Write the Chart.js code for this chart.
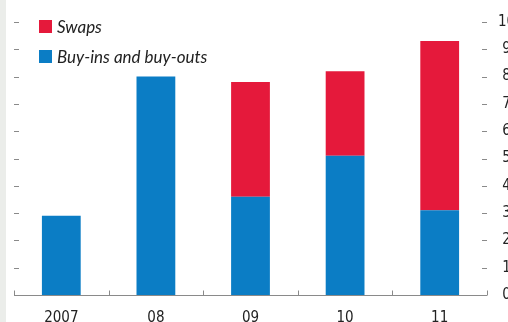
<!DOCTYPE html>
<html>
<head>
<meta charset="utf-8">
<script src="https://cdn.jsdelivr.net/npm/chart.js@4"></script>
<style>
  html, body { margin: 0; padding: 0; background: #fff; overflow: hidden; width: 508px; height: 322px; }
  #wrap { position: relative; width: 520px; height: 322px; }
  #strip { position: absolute; left: 0; top: 0; width: 6px; height: 322px; background: #ebedea; }
  canvas { position: absolute; left: 0; top: 0; }
  .key { position: absolute; left: 39px; font: italic 17px Lato, 'Liberation Sans', sans-serif; color: #222; line-height: 13px; white-space: nowrap; }
  .key span { display: inline-block; width: 13px; height: 13px; vertical-align: top; margin-right: 5px; }
</style>
</head>
<body>
<div id="wrap">
  <div id="strip"></div>
  <canvas id="chart" width="520" height="322"></canvas>
  <div class="key" style="top:20px"><span style="background:#e5193b"></span>Swaps</div>
  <div class="key" style="top:50px"><span style="background:#0b7dc5"></span>Buy-ins and buy-outs</div>
</div>
<script>
  // chart values
  const years = ['2007', '08', '09', '10', '11'];
  const buyIns = [2.9, 8.0, 3.6, 5.1, 3.1];
  const swaps = [0, 0, 4.2, 3.1, 6.2];
  const yTicks = [0, 1, 2, 3, 4, 5, 6, 7, 8, 9, 10];

  const axisColor = '#8a8a8a';
  const tickFont = { family: "'Liberation Sans Narrow', 'DejaVu Sans Condensed', sans-serif", size: 15 };

  // small inward tick marks on both sides and the base line, like the print chart
  const axisMarks = {
    id: 'axisMarks',
    afterDraw(chart) {
      const { ctx, chartArea: a, scales } = chart;
      const y = scales.y, x = scales.x;
      ctx.save();
      ctx.strokeStyle = axisColor;
      ctx.lineWidth = 1;
      ctx.beginPath();
      yTicks.forEach(v => {
        if (v === 0) return;
        const py = Math.round(y.getPixelForValue(v)) + 0.5;
        ctx.moveTo(a.left, py); ctx.lineTo(a.left + 5, py);
        ctx.moveTo(a.right - 5, py); ctx.lineTo(a.right, py);
      });
      const base = Math.round(y.getPixelForValue(0)) + 0.5;
      ctx.moveTo(a.left, base); ctx.lineTo(a.right, base);
      // boundaries between categories
      for (let i = 0; i <= years.length; i++) {
        const px = Math.round(x.getPixelForValue(i - 0.5)) + 0.5;
        ctx.moveTo(px, base); ctx.lineTo(px, base - 5);
      }
      ctx.stroke();
      ctx.restore();
    }
  };

  const ctx = document.getElementById('chart').getContext('2d');

  const chart = new Chart(ctx, {
    type: 'bar',
    data: {
      labels: years,
      datasets: [
        {
          label: 'Buy-ins and buy-outs',
          data: buyIns,
          backgroundColor: '#0b7dc5',
          barPercentage: 0.41,
          categoryPercentage: 1
        },
        {
          label: 'Swaps',
          data: swaps,
          backgroundColor: '#e5193b',
          barPercentage: 0.41,
          categoryPercentage: 1
        }
      ]
    },
    options: {
      responsive: false,
      animation: false,
      layout: { padding: { left: 14, top: 22, right: 0, bottom: 0 } },
      plugins: { legend: { display: false }, tooltip: { enabled: false } },
      scales: {
        x: {
          stacked: true,
          offset: true,
          grid: { display: false },
          border: { display: false },
          ticks: { color: '#222', font: tickFont, padding: 6 },
          afterFit: s => { s.height = 27; }
        },
        y: {
          stacked: true,
          position: 'right',
          min: 0,
          max: 10,
          grid: { display: false, drawTicks: false },
          border: { display: false },
          afterBuildTicks: s => { s.ticks = yTicks.map(v => ({ value: v })); },
          ticks: { color: '#222', font: tickFont, padding: 11, crossAlign: 'center' },
          afterFit: s => { s.width = 33; }
        }
      }
    },
    plugins: [axisMarks]
  });
</script>
</body>
</html>
